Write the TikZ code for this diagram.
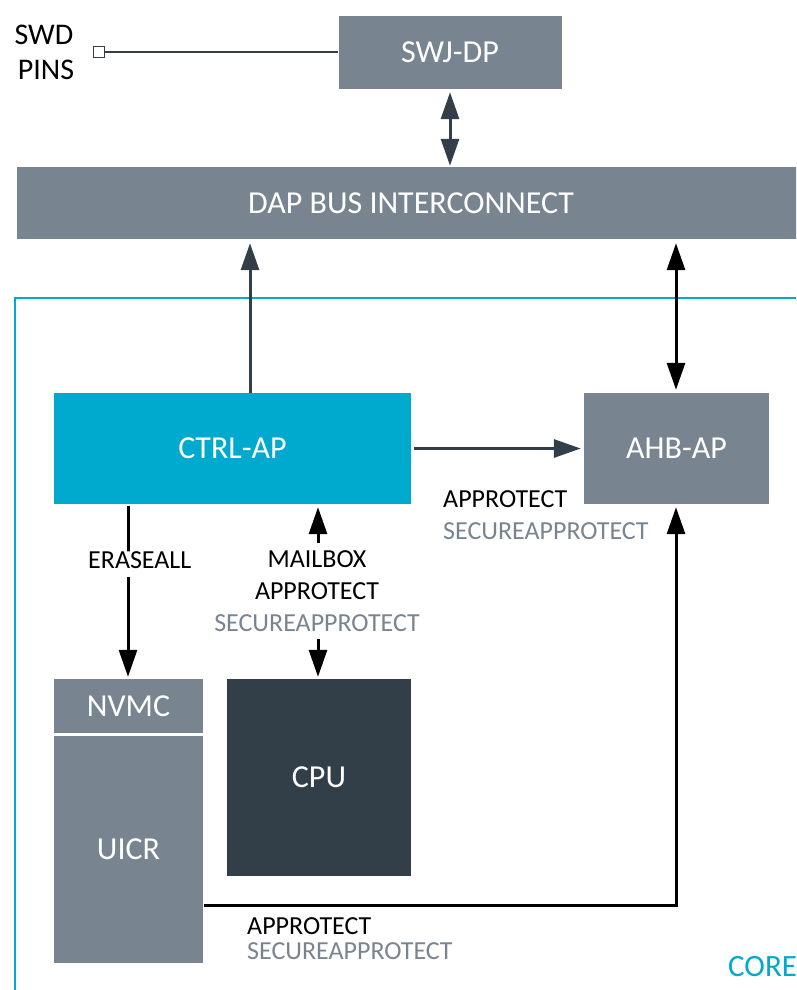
\documentclass[tikz,border=0pt]{standalone}
\usepackage{fontspec}
\setmainfont{Carlito}
\usetikzlibrary{arrows.meta}
\definecolor{dgray}{RGB}{120,133,145}
\definecolor{dark}{RGB}{51,63,72}
\definecolor{cyanb}{RGB}{0,169,206}
\tikzset{
  box/.style={fill=#1, draw=none, inner sep=0pt, text=white, font=\fontsize{32}{38}\selectfont},
  lbl/.style={inner sep=0pt, font=\fontsize{26}{30}\selectfont, text=black},
  slbl/.style={inner sep=0pt, font=\fontsize{26}{30}\selectfont, text=dgray},
  arrd/.style={draw=dark, line width=3pt, -{Triangle[length=27pt,width=18pt]}},
  arrk/.style={draw=black, line width=3pt, -{Triangle[length=27pt,width=18pt]}},
  dbld/.style={draw=dark, line width=3pt, {Triangle[length=27pt,width=18pt]}-{Triangle[length=27pt,width=18pt]}},
  dblk/.style={draw=black, line width=3pt, {Triangle[length=27pt,width=18pt]}-{Triangle[length=27pt,width=18pt]}},
}
\begin{document}
\begin{tikzpicture}[x=1pt,y=-1pt]
\useasboundingbox (0,0) rectangle (796,990);
\clip (0,0) rectangle (796,990);
\fill[white] (0,0) rectangle (796,990);
% core frame
\draw[cyanb, line width=2.5pt] (820,298) -| (15,1010);
\node[anchor=west, inner sep=0pt, text=cyanb, font=\fontsize{31}{36}\selectfont] (core) at (728,967) {CORE};
% boxes
\node[box=dgray, minimum width=223pt, minimum height=73pt] (swj) at (450,52.5) {SWJ-DP};
\node[box=dgray, minimum width=788pt, minimum height=72pt] (dap) at (411,203) {DAP BUS INTERCONNECT};
\node[box=cyanb, minimum width=357pt, minimum height=111pt] (ctrl) at (232.5,448.5) {CTRL-AP};
\node[box=dgray, minimum width=185pt, minimum height=111pt] (ahb) at (676.5,448.5) {AHB-AP};
\node[box=dgray, minimum width=149pt, minimum height=54pt] (nvmc) at (128.5,706) {NVMC};
\node[box=dgray, minimum width=149pt, minimum height=227pt] (uicr) at (128.5,849.5) {UICR};
\node[box=dark, minimum width=184pt, minimum height=197pt] (cpu) at (319,777.5) {CPU};
% SWD pins
\node[inner sep=0pt, font=\fontsize{30}{34}\selectfont] (swd) at (44,35) {SWD};
\node[inner sep=0pt, font=\fontsize{30}{34}\selectfont] (pins) at (46,70) {PINS};
\node[draw=dark, fill=white, line width=1.5pt, minimum size=11pt, inner sep=0pt] (pin) at (99,52) {};
\draw[dark, line width=1.8pt] (pin.east) -- (swj.west |- pin.east);
% coordinates
\coordinate (xl) at (250,0);
\coordinate (xr) at (676,0);
\coordinate (xe) at (128,0);
\coordinate (xm) at (318,0);
\coordinate (xs) at (450,0);
% connectors
\draw[dbld, shorten <=3pt, shorten >=1pt] (swj.south -| xs) -- (dap.north -| xs);
\draw[arrd, shorten >=4pt] (ctrl.north -| xl) -- (dap.south -| xl);
\draw[dblk, shorten <=4pt, shorten >=3pt] (dap.south -| xr) -- (ahb.north -| xr);
\draw[arrd, shorten <=3pt, shorten >=3pt] (ctrl.east |- ctrl.center) -- (ahb.west |- ctrl.center);
% labels right of ctrl
\node[lbl, anchor=west] (ap1) at (443,499) {APPROTECT};
\node[slbl, anchor=west] (sap1) at (443,531) {SECUREAPPROTECT};
% eraseall
\node[lbl, anchor=west] (erase) at (88,560) {ERASEALL};
\draw[black, line width=3pt, shorten <=2pt] (ctrl.south -| xe) -- (erase.north -| xe) -- ++(0,-7);
\draw[arrk, shorten >=2pt] ([yshift=-8pt]erase.south -| xe) -- (nvmc.north -| xe);
% mailbox
\node[lbl] (mb1) at (317,559) {MAILBOX};
\node[lbl] (mb2) at (317,591) {APPROTECT};
\node[slbl] (mb3) at (317,623) {SECUREAPPROTECT};
\draw[arrk, shorten <=7pt, shorten >=3pt] (mb1.north -| xm) -- (ctrl.south -| xm);
\draw[arrk, shorten <=7pt, shorten >=2pt] (mb3.south -| xm) -- (cpu.north -| xm);
% uicr to ahb
\coordinate (u1) at (204,905);
\draw[arrk, shorten >=3pt] (u1) -| (ahb.south -| xr);
\node[lbl, anchor=west] (ap2) at (247,926) {APPROTECT};
\node[slbl, anchor=west] (sap2) at (247,951) {SECUREAPPROTECT};
\end{tikzpicture}
\end{document}
